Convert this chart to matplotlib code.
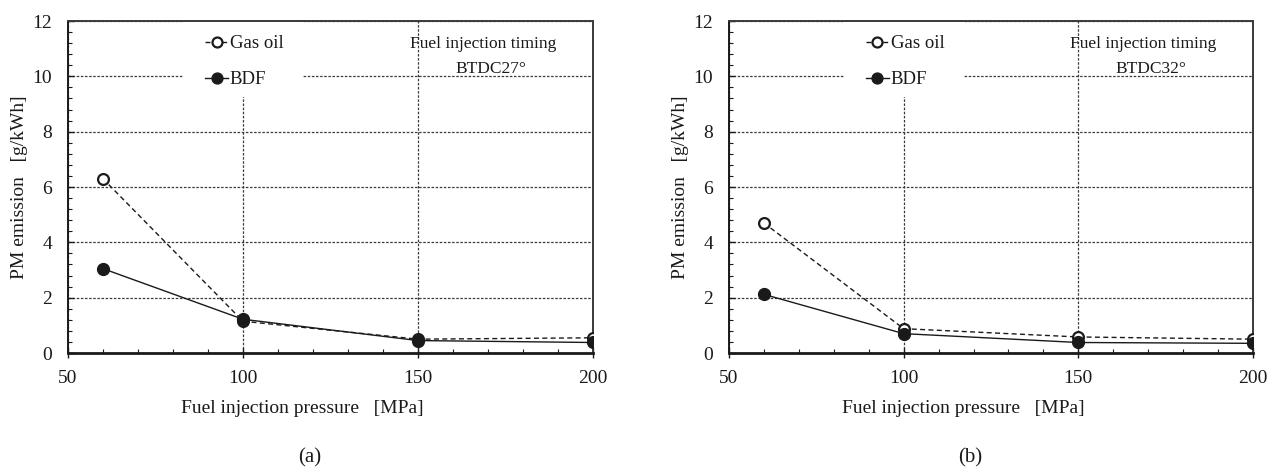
import matplotlib
matplotlib.use("Agg")
import matplotlib.pyplot as plt
from matplotlib.patches import Rectangle
from matplotlib.ticker import MultipleLocator

plt.rcParams['font.family'] = ['Liberation Serif', 'DejaVu Serif']

pressure = [60, 100, 150, 200]

gas_oil_a = [6.3, 1.15, 0.50, 0.55]
bdf_a = [3.05, 1.22, 0.45, 0.38]

gas_oil_b = [4.7, 0.88, 0.58, 0.50]
bdf_b = [2.12, 0.70, 0.38, 0.35]

timings = ["BTDC27°", "BTDC32°"]
panel_tags = ["(a)", "(b)"]

INK = "#1a1a1a"
GRID = "#3a3a3a"

fig = plt.figure(figsize=(12.7, 4.68), dpi=100)
axes = [fig.add_axes([0.0535, 0.2457, 0.4134, 0.7094]),
        fig.add_axes([0.5740, 0.2457, 0.4126, 0.7094])]

series = [(gas_oil_a, bdf_a), (gas_oil_b, bdf_b)]

for ax, (gas, bdf), timing, tag in zip(axes, series, timings, panel_tags):
    ax.set_axisbelow(True)
    ax.set_xlim(50, 200)
    ax.set_ylim(0, 12)
    ax.xaxis.set_major_locator(MultipleLocator(50))
    ax.xaxis.set_minor_locator(MultipleLocator(10))
    ax.yaxis.set_major_locator(MultipleLocator(2))
    ax.yaxis.set_minor_locator(MultipleLocator(0.4))
    ax.grid(True, which='major', linestyle=(0, (2.0, 1.3)), color=GRID, linewidth=0.9)

    ax.tick_params(axis='both', which='major', direction='in', length=4,
                   width=1, colors=INK, labelsize=14)
    ax.tick_params(axis='y', which='major', pad=11.5)
    ax.tick_params(axis='x', which='major', pad=9, direction='inout', length=7)
    ax.tick_params(axis='both', which='minor', direction='in', length=3,
                   width=0.8, colors=INK)
    ax.tick_params(top=False, right=False, which='both')

    ax.spines['left'].set_linewidth(1.4)
    ax.spines['left'].set_color(INK)
    ax.spines['bottom'].set_linewidth(2.0)
    ax.spines['bottom'].set_color(INK)
    for side in ('top', 'right'):
        ax.spines[side].set_linestyle((0, (1.5, 1.0)))
        ax.spines[side].set_linewidth(1.4)
        ax.spines[side].set_color(GRID)

    # white panel behind the legend hides the grid there
    ax.add_patch(Rectangle((0.221, 0.771), 0.227, 0.226, transform=ax.transAxes,
                           facecolor='white', edgecolor='none', zorder=1))

    ax.plot(pressure, gas, linestyle=(0, (3.6, 2.4)), color=INK, linewidth=1.0,
            marker='o', markersize=7.8, markerfacecolor='white',
            markeredgecolor=INK, markeredgewidth=1.6, label='Gas oil', zorder=3)
    ax.plot(pressure, bdf, linestyle='-', color=INK, linewidth=1.0,
            marker='o', markersize=8.5, markerfacecolor=INK,
            markeredgecolor=INK, label='BDF', zorder=4)

    leg = ax.legend(loc='upper left', bbox_to_anchor=(0.261, 0.958),
                    frameon=False, fontsize=13.5, handlelength=1.23,
                    handletextpad=0.1, labelspacing=1.01, markerscale=0.92,
                    borderpad=0.0, borderaxespad=0.0)
    for t in leg.get_texts():
        t.set_color(INK)

    ax.text(0.79, 0.919, "Fuel injection timing", transform=ax.transAxes,
            ha='center', va='baseline', fontsize=12.5, color=INK)
    ax.text(0.806, 0.843, timing, transform=ax.transAxes,
            ha='center', va='baseline', fontsize=12.5, color=INK)

    ax.set_ylabel("PM emission   [g/kWh]", fontsize=14, color=INK)
    ax.yaxis.label.set_va('center')
    ax.yaxis.set_label_coords(-0.092, 0.5)
    ax.set_xlabel("Fuel injection pressure   [MPa]", fontsize=14, color=INK)
    ax.xaxis.set_label_coords(0.447, -0.141)

    ax.text(0.46, -0.316, tag, transform=ax.transAxes, ha='center', va='center',
            fontsize=15, color=INK)

fig.savefig("out.png", dpi=100)
